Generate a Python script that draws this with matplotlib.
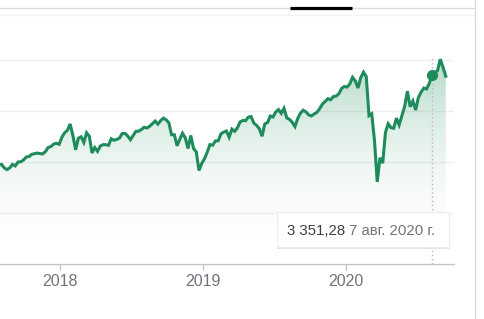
import numpy as np
import pandas as pd
import matplotlib
matplotlib.use("Agg")
import matplotlib.pyplot as plt
import matplotlib.dates as mdates
from matplotlib.patches import PathPatch, Rectangle
from matplotlib.lines import Line2D

# weekly closes, Fridays from 2017-07-28 to 2020-09-11
START_DATE = "2017-07-28"
values_2017 = [2472.1, 2476.8, 2441.3, 2425.6, 2443.1, 2476.6, 2461.4, 2500.2,
               2502.2, 2519.4, 2549.3, 2553.2, 2575.2, 2581.1, 2587.8, 2582.3,
               2578.9, 2602.4, 2642.2, 2651.5, 2675.8, 2683.3, 2673.6]
values_2018 = [2743.2, 2786.2, 2810.3, 2872.9, 2762.1, 2619.6, 2732.2, 2747.3,
               2691.3, 2786.6, 2752.0, 2588.3, 2640.9, 2604.5, 2656.3, 2670.1,
               2669.9, 2663.4, 2727.7, 2712.9, 2721.3, 2734.6, 2779.0, 2779.7,
               2754.9, 2718.4, 2759.8, 2801.3, 2801.8, 2818.8, 2840.4, 2833.3,
               2850.1, 2874.7, 2901.5, 2871.7, 2904.9, 2929.7, 2914.0, 2885.6,
               2767.1, 2767.8, 2658.7, 2723.1, 2781.0, 2736.3, 2632.6, 2760.2,
               2633.1, 2599.0, 2416.6, 2485.7]
values_2019 = [2531.9, 2596.3, 2670.7, 2664.8, 2706.5, 2707.9, 2775.6, 2792.7,
               2803.7, 2743.1, 2822.5, 2800.7, 2834.4, 2892.7, 2907.4, 2905.0,
               2939.9, 2945.6, 2881.4, 2859.5, 2826.1, 2752.1, 2873.3, 2886.9,
               2950.5, 2941.8, 2990.4, 3013.8, 2976.6, 3025.9, 2932.1, 2918.7,
               2888.7, 2847.1, 2926.5, 2978.7, 3007.4, 2992.1, 2961.8, 2952.0,
               2970.3, 2986.2, 3022.6, 3066.9, 3093.1, 3120.5, 3110.3, 3141.0,
               3145.9, 3168.8, 3221.2, 3240.0]
values_2020 = [3234.9, 3265.4, 3329.6, 3295.5, 3225.5, 3327.7, 3380.2, 3337.8,
               2954.2, 2972.4, 2711.0, 2304.9, 2541.5, 2488.7, 2789.8, 2874.6,
               2836.7, 2830.7, 2929.8, 2863.7, 2955.5, 3044.3, 3193.9, 3041.3,
               3097.7, 3009.1, 3130.0, 3185.0, 3224.7, 3215.6, 3271.1, 3351.3,
               3372.9, 3397.2, 3508.0, 3427.0, 3341.0]

year_ticks = ["2018-01-01", "2019-01-01", "2020-01-01"]
year_labels = ["2018", "2019", "2020"]
grid_levels = [2000, 2500, 3000, 3500]

marker_date = "2020-08-07"
marker_value = 3351.28
tooltip_value = "3 351,28"
tooltip_date = "7 авг. 2020 г."

GREEN = "#1e8c5a"

values = values_2017 + values_2018 + values_2019 + values_2020
dates = pd.date_range(START_DATE, periods=len(values), freq="W-FRI")

W, H = 484, 319
fig = plt.figure(figsize=(W / 100, H / 100), dpi=100)
fig.patch.set_facecolor("white")

ax = fig.add_axes([0, 55 / H, 454 / W, 234 / H])
x0 = pd.Timestamp("2017-07-31")
x1 = pd.Timestamp("2020-10-02")
y_lo, y_hi = 1500, 3794
ax.set_xlim(x0, x1)
ax.set_ylim(y_lo, y_hi)

for lvl in grid_levels:
    ax.axhline(lvl, color="#efefef", lw=1, zorder=0)

# gradient fill under the line
fill = ax.fill_between(dates, values, y_lo, color="none")
clip = PathPatch(fill.get_paths()[0], transform=ax.transData,
                 facecolor="none", edgecolor="none")
ax.add_patch(clip)
yy = np.linspace(y_hi, y_lo, 300)
t = np.clip((yy - y_lo) / (3600 - y_lo), 0, 1)
rgba = np.zeros((300, 1, 4))
rgba[..., 0] = 0x1e / 255
rgba[..., 1] = 0x8c / 255
rgba[..., 2] = 0x5a / 255
rgba[:, 0, 3] = 0.36 * t ** 2
im = ax.imshow(rgba, extent=[mdates.date2num(x0), mdates.date2num(x1), y_lo, y_hi],
               aspect="auto", zorder=1, interpolation="bilinear")
im.set_clip_path(clip)

ax.plot(dates, values, color=GREEN, lw=2.2, zorder=3, solid_joinstyle="miter")

md = pd.Timestamp(marker_date)
ax.axvline(md, ymin=0, ymax=0.885, color="#b8b8b8", lw=1, ls=(0, (1, 2)), zorder=2)
ax.plot([md], [marker_value], "o", ms=7, color=GREEN, zorder=4)

for s in ["top", "left", "right"]:
    ax.spines[s].set_visible(False)
ax.spines["bottom"].set_color("#c4c4c4")
ax.spines["bottom"].set_linewidth(1)
ax.set_facecolor("none")
ax.set_yticks([])
ax.set_xticks([pd.Timestamp(d) for d in year_ticks])
ax.set_xticklabels(year_labels, fontfamily="Liberation Sans", fontsize=11.5,
                   color="#70757a")
ax.tick_params(axis="x", direction="out", length=4.5, width=1,
               color="#c4c4c4", pad=3)

# top tab bar and card border
fig.add_artist(Line2D([0, 474 / W], [1 - 8 / H, 1 - 8 / H], color="#dadce0", lw=1))
fig.add_artist(Line2D([0, 474 / W], [1 - 15 / H, 1 - 15 / H], color="#f3f3f3", lw=1))
fig.add_artist(Line2D([290 / W, 352 / W], [1 - 7.5 / H, 1 - 7.5 / H],
                      color="black", lw=2.3, solid_capstyle="butt"))
fig.add_artist(Line2D([475 / W, 475 / W], [0, 1], color="#dadce0", lw=1))

# tooltip
fig.add_artist(Rectangle((277 / W, 1 - 248.5 / H), 173 / W, 36 / H,
                         transform=fig.transFigure, facecolor="#e4e4e4",
                         edgecolor="none", zorder=5))
fig.add_artist(Rectangle((277 / W, 1 - 247 / H), 172 / W, 35 / H,
                         transform=fig.transFigure, facecolor="white",
                         edgecolor="#ececec", lw=0.8, zorder=6))
fig.text(287 / W, 1 - 231 / H, tooltip_value, ha="left", va="center",
         fontfamily="Liberation Sans", fontsize=10.8, color="#3c4043", zorder=7)
fig.text(349 / W, 1 - 231 / H, tooltip_date, ha="left", va="center",
         fontfamily="Liberation Sans", fontsize=10.8, color="#70757a", zorder=7)

fig.savefig("out.png", dpi=100, facecolor="white")
